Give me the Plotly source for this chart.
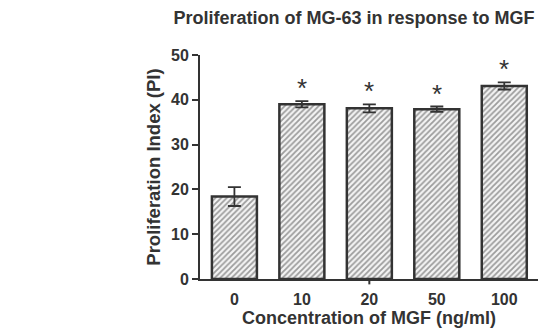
import plotly.graph_objects as go

categories = ["0", "10", "20", "50", "100"]
means = [18.4, 39.0, 38.1, 37.9, 43.1]
sds = [2.1, 0.7, 0.9, 0.6, 0.8]
marks = ["", "*", "*", "*", "*"]
y_ticks = [0, 10, 20, 30, 40, 50]

ink = "#333333"
font = dict(family="Liberation Sans, Arial, sans-serif", color=ink)

fig = go.Figure()
fig.add_trace(go.Bar(
    x=list(range(len(categories))),
    y=means,
    width=0.667,
    marker=dict(
        color="white",
        line=dict(color=ink, width=2.5),
        pattern=dict(shape="/", fgcolor="#444444", bgcolor="#f4f4f4", size=4, solidity=0.45),
    ),
    error_y=dict(type="data", array=sds, visible=True, color=ink, thickness=1.8, width=6.5),
))

for i, (m, s, t) in enumerate(zip(means, sds, marks)):
    if t:
        fig.add_annotation(x=i, y=m + s, text=t, showarrow=False,
                           yanchor="bottom", yshift=-4, font=dict(size=26, **font))

fig.add_shape(type="line", xref="x", yref="paper", x0=2, x1=2, y0=0, y1=-0.024,
              line=dict(color=ink, width=2))

fig.update_layout(
    width=545, height=336,
    margin=dict(l=200, r=7, t=55, b=57),
    paper_bgcolor="white", plot_bgcolor="white",
    showlegend=False,
    font=dict(size=16, **font),
    title=dict(text="<b>Proliferation of MG-63 in response to MGF</b>",
               x=354 / 545, xref="container", xanchor="center",
               y=1 - 18 / 336, yref="container", yanchor="middle",
               font=dict(size=18, **font)),
)
fig.update_xaxes(
    range=[-0.51, 4.5],
    tickvals=list(range(len(categories))),
    ticktext=["<b>" + c + "</b>" for c in categories],
    ticks="outside", ticklen=5, tickcolor="rgba(0,0,0,0)",
    showline=True, linecolor=ink, linewidth=2, showgrid=False, zeroline=False,
    tickfont=dict(size=16, **font),
    title=dict(text="<b>Concentration of MGF (ng/ml)</b>", font=dict(size=18, **font), standoff=3),
)
fig.update_yaxes(
    range=[0, 50],
    tickvals=y_ticks,
    ticktext=["<b>" + str(v) + "</b>" for v in y_ticks],
    ticks="outside", ticklen=6, tickwidth=2, tickcolor=ink,
    showline=True, linecolor=ink, linewidth=2, showgrid=False, zeroline=False,
    tickfont=dict(size=16, **font),
    title=dict(text="<b>Proliferation Index (PI)</b>", font=dict(size=18.5, **font), standoff=6),
)

fig.write_html("out.html")
